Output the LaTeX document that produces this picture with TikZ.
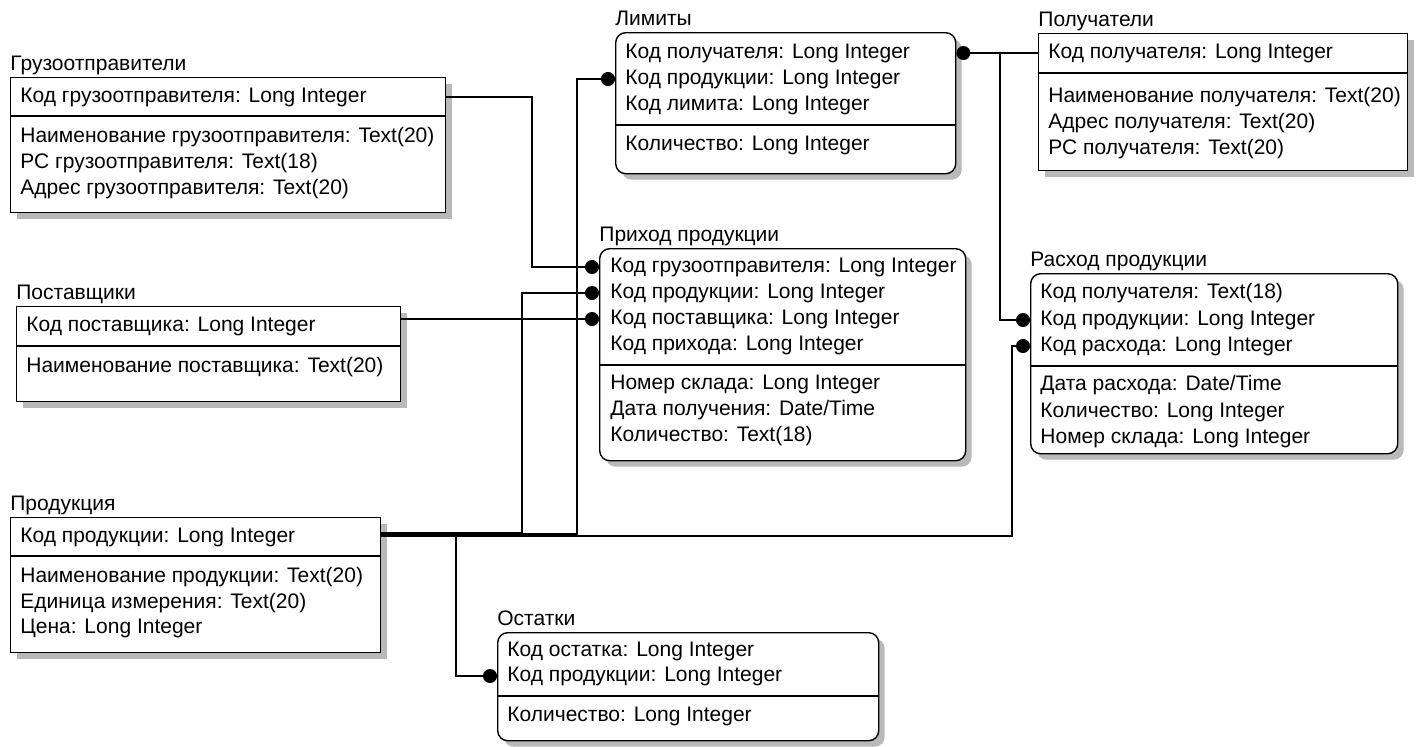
\documentclass[tikz,border=0pt]{standalone}
\usepackage{fontspec}
\setmainfont{Liberation Sans}
\usetikzlibrary{arrows.meta,shadows}
\newcommand\px{0.5pt}

\tikzset{
  ent/.style={draw,line width=0.7pt,fill=white,inner sep=0pt,anchor=north west,
    drop shadow={shadow xshift=3pt,shadow yshift=-3pt,fill=gray!55,opacity=1}},
  rent/.style={ent,rounded corners=5pt},
  ttl/.style={anchor=base west,inner sep=0pt},
  fld/.style={anchor=west,inner sep=0pt},
  rel/.style={line width=0.7pt},
  relk/.style={rel,-{Circle[length=7pt]}}
}

\begin{document}
\begin{tikzpicture}[x=\px,y=-\px,font=\fontsize{10.5}{12}\selectfont]
    \useasboundingbox (0,0) rectangle (1419,746);

    \begin{scope}
      \node[ttl] (gruzT) at (10,70) {Грузоотправители};
      \node[ent,minimum width=435*\px,minimum height=135*\px] (gruz) at (10,77) {};
      \draw[rel] (10,116) -- ++(435,0);
      \node[fld] (gruz1) at (20,97) {Код грузоотправителя: Long Integer};
      \node[fld] (gruz2) at (20,137) {Наименование грузоотправителя: Text(20)};
      \node[fld] (gruz3) at (20,163) {РС грузоотправителя: Text(18)};
      \node[fld] (gruz4) at (20,189) {Адрес грузоотправителя: Text(20)};
    \end{scope}

    \begin{scope}
      \node[ttl] (postT) at (16,299) {Поставщики};
      \node[ent,minimum width=384*\px,minimum height=95*\px] (post) at (16,306) {};
      \draw[rel] (16,346) -- ++(384,0);
      \node[fld] (post1) at (26,326) {Код поставщика: Long Integer};
      \node[fld] (post2) at (26,367) {Наименование поставщика: Text(20)};
    \end{scope}

    \begin{scope}
      \node[ttl] (prodT) at (10,510) {Продукция};
      \node[ent,minimum width=370*\px,minimum height=135*\px] (prod) at (10,517) {};
      \draw[rel] (10,556) -- ++(370,0);
      \node[fld] (prod1) at (20,537) {Код продукции: Long Integer};
      \node[fld] (prod2) at (20,577) {Наименование продукции: Text(20)};
      \node[fld] (prod3) at (20,603) {Единица измерения: Text(20)};
      \node[fld] (prod4) at (20,628) {Цена: Long Integer};
    \end{scope}

    \begin{scope}
      \node[ttl] (limT) at (615,25) {Лимиты};
      \node[rent,minimum width=340*\px,minimum height=141*\px] (lim) at (615,32) {};
      \draw[rel] (615,125) -- ++(340,0);
      \node[fld] (lim1) at (625,53) {Код получателя: Long Integer};
      \node[fld] (lim2) at (625,79) {Код продукции: Long Integer};
      \node[fld] (lim3) at (625,105) {Код лимита: Long Integer};
      \node[fld] (lim4) at (625,145) {Количество: Long Integer};
    \end{scope}

    \begin{scope}
      \node[ttl] (polT) at (1038,26) {Получатели};
      \node[ent,minimum width=369*\px,minimum height=137*\px] (pol) at (1038,33) {};
      \draw[rel] (1038,73) -- ++(369,0);
      \node[fld] (pol1) at (1048,53) {Код получателя: Long Integer};
      \node[fld] (pol2) at (1048,97) {Наименование получателя: Text(20)};
      \node[fld] (pol3) at (1048,123) {Адрес получателя: Text(20)};
      \node[fld] (pol4) at (1048,149) {РС получателя: Text(20)};
    \end{scope}

    \begin{scope}
      \node[ttl] (prihT) at (599,241) {Приход продукции};
      \node[rent,minimum width=366*\px,minimum height=212*\px] (prih) at (599,248) {};
      \draw[rel] (599,365) -- ++(366,0);
      \node[fld] (prih1) at (610,267) {Код грузоотправителя: Long Integer};
      \node[fld] (prih2) at (610,293) {Код продукции: Long Integer};
      \node[fld] (prih3) at (610,319) {Код поставщика: Long Integer};
      \node[fld] (prih4) at (610,345) {Код прихода: Long Integer};
      \node[fld] (prih5) at (610,384) {Номер склада: Long Integer};
      \node[fld] (prih6) at (610,410) {Дата получения: Date/Time};
      \node[fld] (prih7) at (610,436) {Количество: Text(18)};
    \end{scope}

    \begin{scope}
      \node[ttl] (rashT) at (1030,266) {Расход продукции};
      \node[rent,minimum width=367*\px,minimum height=180*\px] (rash) at (1030,273) {};
      \draw[rel] (1030,366) -- ++(367,0);
      \node[fld] (rash1) at (1040,293) {Код получателя: Text(18)};
      \node[fld] (rash2) at (1040,320) {Код продукции: Long Integer};
      \node[fld] (rash3) at (1040,346) {Код расхода: Long Integer};
      \node[fld] (rash4) at (1040,385) {Дата расхода: Date/Time};
      \node[fld] (rash5) at (1040,412) {Количество: Long Integer};
      \node[fld] (rash6) at (1040,438) {Номер склада: Long Integer};
    \end{scope}

    \begin{scope}
      \node[ttl] (ostT) at (497,625) {Остатки};
      \node[rent,minimum width=381*\px,minimum height=108*\px] (ost) at (497,632) {};
      \draw[rel] (497,696) -- ++(381,0);
      \node[fld] (ost1) at (507,651) {Код остатка: Long Integer};
      \node[fld] (ost2) at (507,676) {Код продукции: Long Integer};
      \node[fld] (ost3) at (507,716) {Количество: Long Integer};
    \end{scope}

    \path (prod1 -| prod.east) ++(0,-4.5) coordinate (pa) ++(0,1.5) coordinate (pb) ++(0,2) coordinate (pc);

    \draw[relk] (gruz.east |- gruz1) -| (532,0 |- prih1) -- (prih.west |- prih1);
    \draw[relk] (post.east |- prih3) -- (prih.west |- prih3);
    \draw[relk] (pa) -| (522,0 |- prih2) -- (prih.west |- prih2);
    \draw[relk] (pb) -| (577,0 |- lim2) -- (lim.west |- lim2);
    \draw[relk] (pc) -| (1012,0 |- rash3) -- (rash.west |- rash3);
    \draw[relk] (pc) -| (456,0 |- ost2) -- (ost.west |- ost2);
    \draw[relk] (pol.west |- pol1) -- (lim.east |- pol1);
    \draw[relk] (pol.west |- pol1) -| (1000,0 |- rash2) -- (rash.west |- rash2);
  \end{tikzpicture}
\end{document}
